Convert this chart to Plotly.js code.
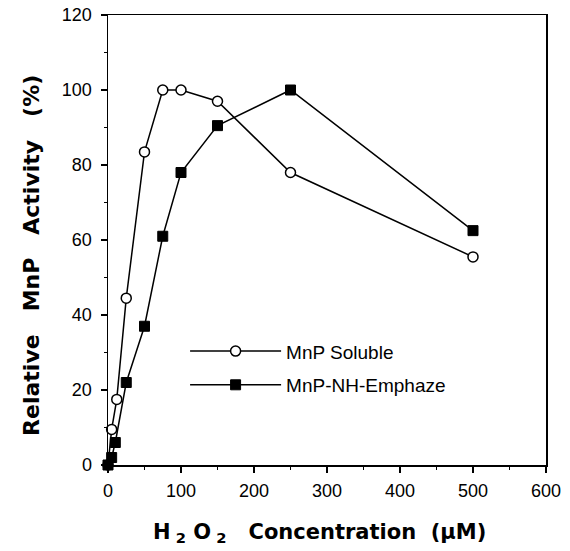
<!DOCTYPE html>
<html>
<head>
<meta charset="utf-8">
<script src="https://cdn.plot.ly/plotly-3.0.1.min.js"></script>
<style>html,body{margin:0;padding:0;background:#fff;}</style>
</head>
<body>
<div id="chart" style="width:570px;height:551px;"></div>
<script>
// H2O2 concentration (µM)
const solubleX = [0, 5, 12, 25, 50, 75, 100, 150, 250, 500];
const solubleY = [0, 9.5, 17.5, 44.5, 83.5, 100, 100, 97, 78, 55.5];
const emphazeX = [0, 5, 10, 25, 50, 75, 100, 150, 250, 500];
const emphazeY = [0, 2, 6, 22, 37, 61, 78, 90.5, 100, 62.5];
const seriesNames = ['MnP Soluble', 'MnP-NH-Emphaze'];
const xTicks = [0, 100, 200, 300, 400, 500, 600];
const yTicks = [0, 20, 40, 60, 80, 100, 120];

const font = 'Liberation Sans, Arial, Helvetica, sans-serif';
const titleFont = 'DejaVu Sans, Liberation Sans, sans-serif';
const sp = n => '&nbsp;'.repeat(n);

const traces = [
  {
    x: solubleX, y: solubleY, name: seriesNames[0], legendgroup: 'a',
    type: 'scatter', mode: 'lines+markers',
    line: {color: '#000', width: 1.5},
    marker: {symbol: 'circle', size: 10, color: '#fff', line: {color: '#000', width: 1.5}},
    cliponaxis: false
  },
  {
    x: emphazeX, y: emphazeY, name: seriesNames[1], legendgroup: 'b',
    type: 'scatter', mode: 'lines+markers',
    line: {color: '#000', width: 1.5},
    marker: {symbol: 'square', size: 10, color: '#000', line: {color: '#000', width: 1}},
    cliponaxis: false
  }
];

const layout = {
  width: 570, height: 551,
  margin: {l: 108, r: 24, t: 15, b: 86},
  paper_bgcolor: '#fff', plot_bgcolor: '#fff',
  font: {family: font, color: '#000', size: 18},
  showlegend: true,
  legend: {
    x: 0.176, y: 0.295, xanchor: 'left', yanchor: 'top',
    bgcolor: 'rgba(0,0,0,0)', borderwidth: 0,
    itemwidth: 91, tracegroupgap: 6,
    font: {family: font, size: 19, color: '#000'}
  },
  xaxis: {
    range: [0, 600], tickvals: xTicks, ticktext: xTicks.map(String),
    showgrid: false, zeroline: false,
    showline: true, linecolor: '#000', linewidth: 1.5, mirror: true,
    ticks: 'outside', ticklen: 6, tickwidth: 1.2, tickcolor: '#000',
    minor: {dtick: 50, ticks: 'outside', ticklen: 3, tickwidth: 1, tickcolor: '#000', showgrid: false},
    ticklabelstandoff: 3,
    tickfont: {family: font, size: 18},
    title: {text: 'H<sub>' + sp(1) + '2</sub>' + sp(1) + 'O<sub>' + sp(1) + '2</sub>' + sp(3) + 'Concentration' + sp(2) + '(µM)' + sp(2),
            font: {family: titleFont, size: 21, weight: 'bold'}, standoff: 24}
  },
  yaxis: {
    range: [0, 120], tickvals: yTicks, ticktext: yTicks.map(String),
    showgrid: false, zeroline: false,
    showline: true, linecolor: '#000', linewidth: 1.5, mirror: true,
    ticks: 'outside', ticklen: 6, tickwidth: 1.2, tickcolor: '#000',
    minor: {dtick: 10, ticks: 'outside', ticklen: 3, tickwidth: 1, tickcolor: '#000', showgrid: false},
    ticklabelstandoff: 5,
    tickfont: {family: font, size: 18},
    title: {text: 'Relative' + sp(3) + 'MnP' + sp(3) + 'Activity' + sp(3) + '(%)' + sp(4),
            font: {family: titleFont, size: 22, weight: 'bold'}, standoff: 16}
  }
};

Plotly.newPlot('chart', traces, layout, {displayModeBar: false, staticPlot: true});
</script>
</body>
</html>
